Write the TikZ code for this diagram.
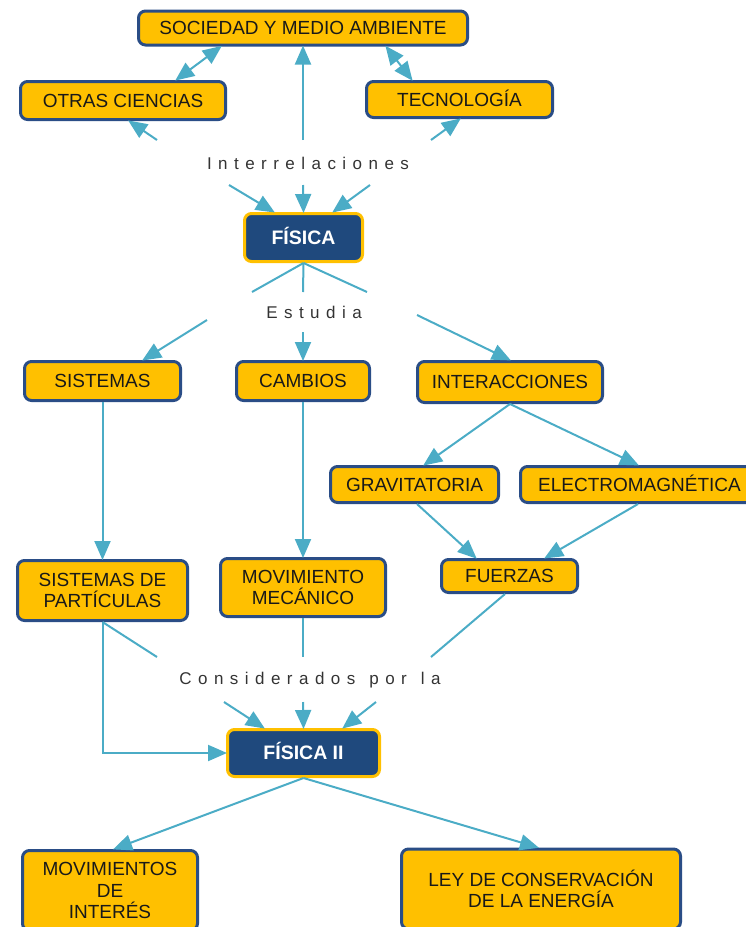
\documentclass[tikz,border=0pt]{standalone}
\usepackage{fontspec}
\setmainfont{Liberation Sans}
\usetikzlibrary{arrows.meta,calc}
\definecolor{gold}{HTML}{FFC000}
\definecolor{navy}{HTML}{1F497D}
\definecolor{bord}{HTML}{2A4D86}
\definecolor{linkc}{HTML}{4BACC6}
\begin{document}
\begin{tikzpicture}[x=1pt,y=-1pt,
 concept/.style={draw=bord, line width=3pt, fill=gold, rounded corners=7pt, text=black!90,
   font=\fontsize{19}{21.5}\selectfont, align=center, inner sep=0pt},
 one/.style={text height=13.6pt, text depth=0.5pt},
 mainc/.style={draw=gold, line width=3pt, fill=navy, rounded corners=7pt, text=white,
   font=\fontsize{19.5}{22}\selectfont\bfseries, inner sep=0pt, text height=14pt, text depth=0.5pt},
 phrase/.style={font=\fontsize{17}{20}\selectfont\addfontfeatures{LetterSpace=38}, text=black!80, inner sep=0pt},
 conn/.style={draw=linkc, line width=2pt},
 tip/.tip={Triangle[length=19pt,width=16pt]},
 arr/.style={conn, -tip, shorten >=-1pt},
 darr/.style={conn, tip-tip, shorten >=-1pt, shorten <=-1pt},
]
\useasboundingbox (0,0) rectangle (746,927);

% concepts
\node[concept, one, minimum width=329, minimum height=34] (soc) at (303,28) {SOCIEDAD Y MEDIO AMBIENTE};
\node[concept, one, minimum width=205, minimum height=38] (otras) at (123,100.5) {OTRAS CIENCIAS};
\node[concept, one, minimum width=186, minimum height=36] (tec) at (459.5,99.5) {TECNOLOGÍA};
\node[mainc, minimum width=118, minimum height=48] (fis) at (303.5,237.5) {FÍSICA};
\node[concept, one, minimum width=156, minimum height=39] (sis) at (102.5,381) {SISTEMAS};
\node[concept, one, minimum width=133, minimum height=39] (cam) at (303,381) {CAMBIOS};
\node[concept, one, minimum width=185, minimum height=41] (inter) at (510,382) {INTERACCIONES};
\node[concept, one, minimum width=168, minimum height=36] (grav) at (414.5,484.5) {GRAVITATORIA};
\node[concept, one, minimum width=238, minimum height=36] (elec) at (639.5,484.5) {ELECTROMAGNÉTICA};
\node[concept, minimum width=170, minimum height=60] (sdp) at (102.5,590.5) {SISTEMAS DE\\PARTÍCULAS};
\node[concept, minimum width=165, minimum height=58] (mm) at (303,587.5) {MOVIMIENTO\\MECÁNICO};
\node[concept, one, minimum width=136, minimum height=33] (fue) at (509.5,576) {FUERZAS};
\node[mainc, minimum width=152, minimum height=47] (fis2) at (303.5,753) {FÍSICA II};
\node[concept, minimum width=175, minimum height=80] (mov) at (110,890.5) {MOVIMIENTOS\\DE\\INTERÉS};
\node[concept, minimum width=279, minimum height=80] (ley) at (541,889) {LEY DE CONSERVACIÓN\\DE LA ENERGÍA};

% linking phrases
\node[phrase] (pint) at (308,163) {Interrelaciones};
\node[phrase] (pest) at (314,312) {Estudia};
\node[phrase] (pcon) at (310,680) {Considerados\, por\, la};

% free ends
\coordinate (i1) at (157,140);
\coordinate (i2) at (303,140);
\coordinate (i3) at (431,140);
\coordinate (i4) at (229,185);
\coordinate (i5) at (303,185);
\coordinate (i6) at (370,185);
\coordinate (e1) at (252,292);
\coordinate (e2) at (303,292);
\coordinate (e3) at (367,292);
\coordinate (e4) at (207,320);
\coordinate (e5) at (303,332);
\coordinate (e6) at (417,315);
\coordinate (c1) at (157,657);
\coordinate (c2) at (303,657);
\coordinate (c3) at (431,657);
\coordinate (c4) at (224,702);
\coordinate (c5) at (303,702);
\coordinate (c6) at (376,702);

% top connectors
\draw[darr] ([xshift=53pt]otras.north) -- ([xshift=-82pt]soc.south);
\draw[darr] ([xshift=-47.5pt]tec.north) -- ([xshift=83pt]soc.south);
\draw[arr] (i1) -- ([xshift=6pt]otras.south);
\draw[arr] (i2) -- (soc.south);
\draw[arr] (i3) -- ([xshift=0.5pt]tec.south);
\draw[arr] (i4) -- ([xshift=-29.5pt]fis.north);
\draw[arr] (i5) -- (fis.north);
\draw[arr] (i6) -- ([xshift=29.5pt]fis.north);

% middle connectors
\draw[conn] (fis.south) -- (e1);
\draw[conn] (fis.south) -- (e2);
\draw[conn] (fis.south) -- (e3);
\draw[arr] (e4) -- ([xshift=40.5pt]sis.north);
\draw[arr] (e5) -- (cam.north);
\draw[arr] (e6) -- (inter.north);
\draw[arr] (inter.south) -- ([xshift=9.5pt]grav.north);
\draw[arr] (inter.south) -- ([xshift=-1.5pt]elec.north);
\draw[arr] ([xshift=2.5pt]grav.south) -- ([xshift=-33.5pt]fue.north);
\draw[arr] ([xshift=-1.5pt]elec.south) -- ([xshift=35.5pt]fue.north);
\draw[arr] (sis.south) -- (sdp.north);
\draw[arr] (cam.south) -- (mm.north);

% lower connectors
\draw[conn] (sdp.south) -- (c1);
\draw[arr] (sdp.south) |- (fis2.west);
\draw[conn] (mm.south) -- (c2);
\draw[conn] ([xshift=-4.5pt]fue.south) -- (c3);
\draw[arr] (c4) -- ([xshift=-39.5pt]fis2.north);
\draw[arr] (c5) -- (fis2.north);
\draw[arr] (c6) -- ([xshift=39.5pt]fis2.north);
\draw[arr] (fis2.south) -- ([xshift=4pt]mov.north);
\draw[arr] (fis2.south) -- ([xshift=-3pt]ley.north);
\end{tikzpicture}
\end{document}
